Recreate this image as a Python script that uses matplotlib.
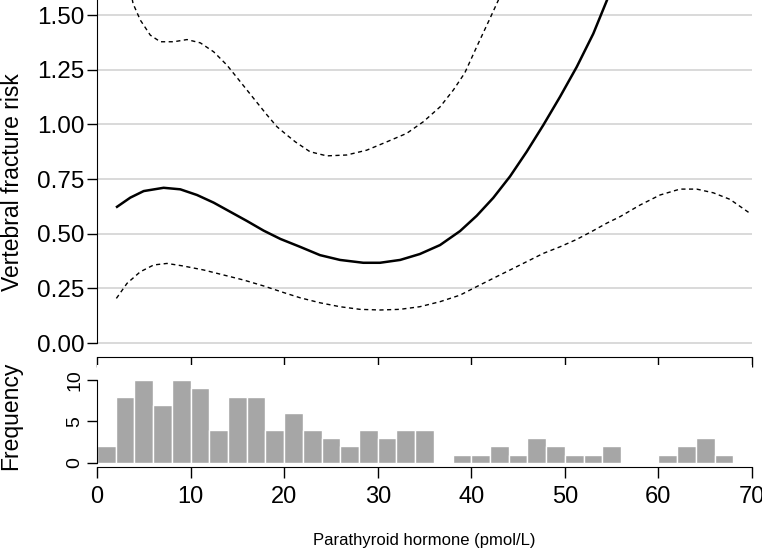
import numpy as np
import matplotlib
matplotlib.use("Agg")
import matplotlib.pyplot as plt

plt.rcParams['font.family'] = ['Liberation Sans', 'DejaVu Sans']

# fitted curve
fit_x = [2.14, 3.56, 4.99, 7.12, 8.9, 10.69, 12.47, 14.25, 16.03, 17.81, 19.6, 21.7, 23.83,
         25.97, 28.46, 30.24, 32.4, 34.5, 36.66, 38.8, 40.58, 42.35, 44.14, 45.92, 47.7,
         49.48, 51.27, 53.04, 54.5, 55.6]
fit_y = [0.623, 0.665, 0.695, 0.710, 0.703, 0.677, 0.642, 0.600, 0.558, 0.514, 0.476, 0.440,
         0.402, 0.380, 0.367, 0.367, 0.380, 0.407, 0.448, 0.512, 0.582, 0.664, 0.762, 0.875,
         0.997, 1.126, 1.263, 1.415, 1.568, 1.70]

upper_x = [3.3, 3.85, 4.63, 5.7, 6.77, 8.2, 9.62, 11.04, 12.47, 13.89, 15.32, 16.74, 18.17,
           19.24, 20.3, 21.2, 22.76, 24.55, 26.69, 28.82, 30.96, 33.1, 34.87, 36.66, 38.08,
           39.3, 40.58, 42.0, 42.89, 43.7]
upper_y = [1.68, 1.553, 1.477, 1.408, 1.378, 1.378, 1.388, 1.373, 1.332, 1.271, 1.195, 1.119,
           1.043, 0.989, 0.951, 0.92, 0.875, 0.856, 0.860, 0.882, 0.920, 0.959, 1.012, 1.080,
           1.157, 1.235, 1.355, 1.485, 1.568, 1.70]

lower_x = [2.07, 3.21, 4.63, 6.06, 7.48, 9.26, 11.4, 13.54, 15.68, 17.81, 20.0, 21.7, 23.83,
           25.97, 28.1, 30.24, 32.38, 34.5, 36.66, 38.8, 40.58, 42.35, 44.14, 45.92, 47.7,
           49.48, 51.27, 53.04, 54.47, 55.9, 58.03, 60.17, 62.3, 64.09, 65.87, 67.65, 69.79]
lower_y = [0.204, 0.273, 0.326, 0.357, 0.364, 0.352, 0.334, 0.311, 0.288, 0.261, 0.230, 0.207,
           0.184, 0.166, 0.154, 0.151, 0.154, 0.166, 0.189, 0.219, 0.258, 0.296, 0.334, 0.372,
           0.410, 0.440, 0.474, 0.514, 0.548, 0.578, 0.631, 0.677, 0.704, 0.704, 0.687, 0.657,
           0.593]

# histogram, bins of width 2 from 0 to 68
bin_edges = np.arange(0, 70, 2)
counts = [2, 8, 10, 7, 10, 9, 4, 8, 8, 4, 6, 4, 3, 2, 4, 3, 4, 4,
          0, 1, 1, 2, 1, 3, 2, 1, 1, 2, 0, 0, 1, 2, 3, 1]

W, H = 762, 549
fig = plt.figure(figsize=(W / 100, H / 100), dpi=100)

x0, x1 = 97, 752
# top panel: pixel 0 .. 357
ax = fig.add_axes([x0 / W, 1 - 357 / H, (x1 - x0) / W, 357 / H])
ax.set_xlim(0, 70)
ax.set_ylim(-0.064, 1.569)
for v in [0, 0.25, 0.5, 0.75, 1.0, 1.25, 1.5]:
    ax.axhline(v, color='#d3d3d3', lw=1.2, zorder=0)
ax.plot(fit_x, fit_y, color='black', lw=1.8)
ax.plot(upper_x, upper_y, color='black', lw=1.0, ls=(0, (3, 2.5)))
ax.plot(lower_x, lower_y, color='black', lw=1.0, ls=(0, (3, 2.5)))
ax.spines['top'].set_visible(False)
ax.spines['right'].set_visible(False)
ax.spines['left'].set_bounds(0, 1.569)
ax.spines['bottom'].set_bounds(0, 70)
ax.set_yticks([0, 0.25, 0.5, 0.75, 1.0, 1.25, 1.5])
ax.set_yticklabels(['0.00', '0.25', '0.50', '0.75', '1.00', '1.25', '1.50'])
ax.set_xticks(range(0, 71, 10))
ax.tick_params(axis='x', labelbottom=False, length=7, width=1)
ax.tick_params(axis='y', labelsize=17.5, length=7, width=1, pad=2)
ax.set_ylabel('Vertebral fracture risk', fontsize=16.5)
ax.yaxis.set_label_coords(-0.112, 0.49)

# bottom panel: histogram
hb = 467
ax2 = fig.add_axes([x0 / W, 1 - hb / H, (x1 - x0) / W, (hb - 365) / H])
ax2.set_xlim(0, 70)
ax2.set_ylim(-0.48, 11.8)
ax2.bar(bin_edges[:-1], counts, width=2, align='edge', color='#a6a6a6',
        edgecolor='white', lw=1)
ax2.spines['top'].set_visible(False)
ax2.spines['right'].set_visible(False)
ax2.spines['left'].set_bounds(0, 10)
ax2.spines['bottom'].set_bounds(0, 70)
ax2.set_yticks([0, 5, 10])
ax2.set_xticks(range(0, 71, 10))
ax2.tick_params(axis='y', labelsize=14, length=7, width=1, pad=3)
for t in ax2.get_yticklabels():
    t.set_rotation(90)
    t.set_va('center')
ax2.tick_params(axis='x', labelsize=17, length=8, width=1, pad=6)
ax2.set_ylabel('Frequency', fontsize=16.5)
ax2.yaxis.set_label_coords(-0.114, 0.5)
ax2.set_xlabel('Parathyroid hormone (pmol/L)', fontsize=12, labelpad=18)

fig.savefig('out.png', dpi=100)
